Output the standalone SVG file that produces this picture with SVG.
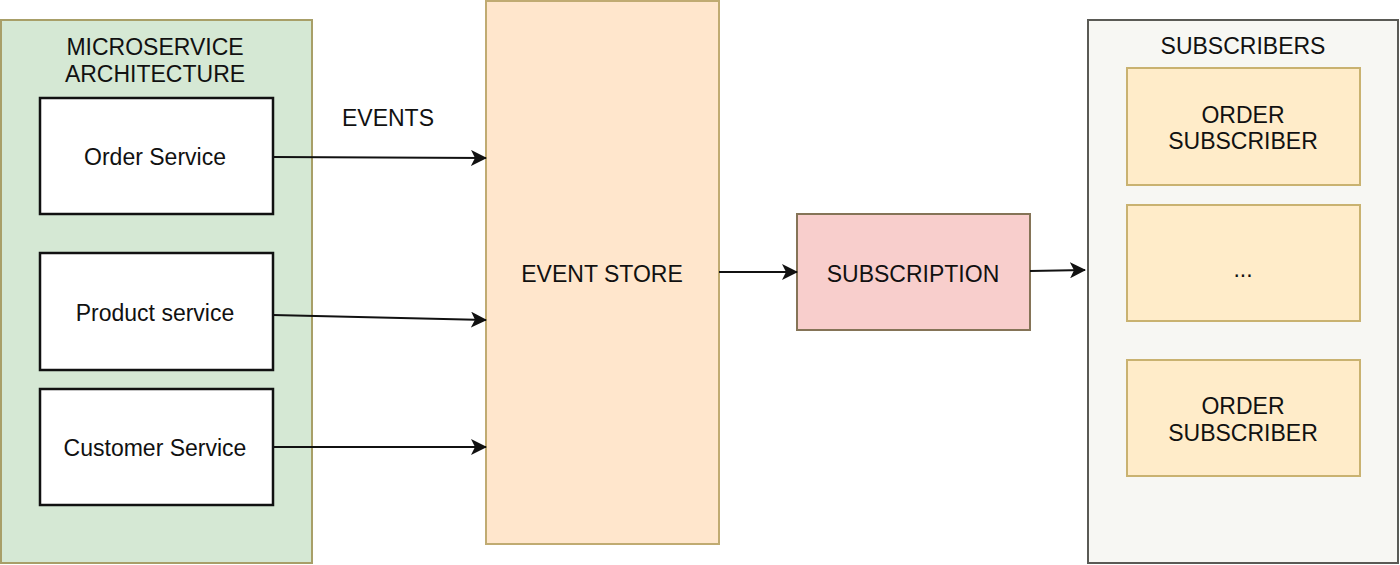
<svg xmlns="http://www.w3.org/2000/svg" width="1400" height="565" viewBox="0 0 1400 565">
<style>
text{font-family:"Liberation Sans",Arial,sans-serif;font-size:23px;fill:#111;text-anchor:middle}
.svc{fill:#fff;stroke:#111;stroke-width:2.5}
.sub{fill:#ffecc9;stroke:#c9b270;stroke-width:2}
.conn{stroke:#111;stroke-width:2.2;fill:none}
</style>
<defs>
<marker id="ah" viewBox="0 0 16 16" refX="15" refY="8" markerWidth="16" markerHeight="16" markerUnits="userSpaceOnUse" orient="auto">
<path d="M0,0 L16,8 L0,16 L4,8 Z" fill="#111"/>
</marker>
</defs>
<g id="microservices">
<rect x="1" y="20" width="311" height="543" fill="#d5e8d4" stroke="#a89f68" stroke-width="2"/>
<text x="155" y="55">MICROSERVICE</text>
<text x="155" y="82">ARCHITECTURE</text>
</g>
<g id="order-service"><rect class="svc" x="40" y="98" width="233" height="116"/><text x="155" y="165">Order Service</text></g>
<g id="product-service"><rect class="svc" x="40" y="253" width="233" height="117"/><text x="155" y="321">Product service</text></g>
<g id="customer-service"><rect class="svc" x="40" y="389" width="233" height="116"/><text x="155" y="456">Customer Service</text></g>
<g id="event-store"><rect x="486" y="1" width="233" height="543" fill="#ffe6cc" stroke="#c0ab72" stroke-width="2"/><text x="602" y="282">EVENT STORE</text></g>
<g id="subscription"><rect x="797" y="214" width="233" height="116" fill="#f8cecc" stroke="#857457" stroke-width="2"/><text x="913" y="282">SUBSCRIPTION</text></g>
<g id="subscribers">
<rect x="1088" y="20" width="310" height="543" fill="#f7f7f3" stroke="#5a5a55" stroke-width="2"/>
<text x="1243" y="54">SUBSCRIBERS</text>
</g>
<g id="order-subscriber-1"><rect class="sub" x="1127" y="68" width="233" height="117"/><text x="1243" y="123">ORDER</text><text x="1243" y="149">SUBSCRIBER</text></g>
<g id="more-subscribers"><rect class="sub" x="1127" y="205" width="233" height="116"/><text x="1243" y="277">...</text></g>
<g id="order-subscriber-2"><rect class="sub" x="1127" y="360" width="233" height="116"/><text x="1243" y="414">ORDER</text><text x="1243" y="441">SUBSCRIBER</text></g>
<g id="connectors">
<line class="conn" x1="273" y1="157" x2="486" y2="158" marker-end="url(#ah)"/>
<line class="conn" x1="273" y1="315" x2="486" y2="320" marker-end="url(#ah)"/>
<line class="conn" x1="273" y1="447" x2="486" y2="447" marker-end="url(#ah)"/>
<line class="conn" x1="719" y1="272" x2="797" y2="272" marker-end="url(#ah)"/>
<line class="conn" x1="1030" y1="271" x2="1085" y2="270" marker-end="url(#ah)"/>
<text x="388" y="126">EVENTS</text>
</g>
</svg>
